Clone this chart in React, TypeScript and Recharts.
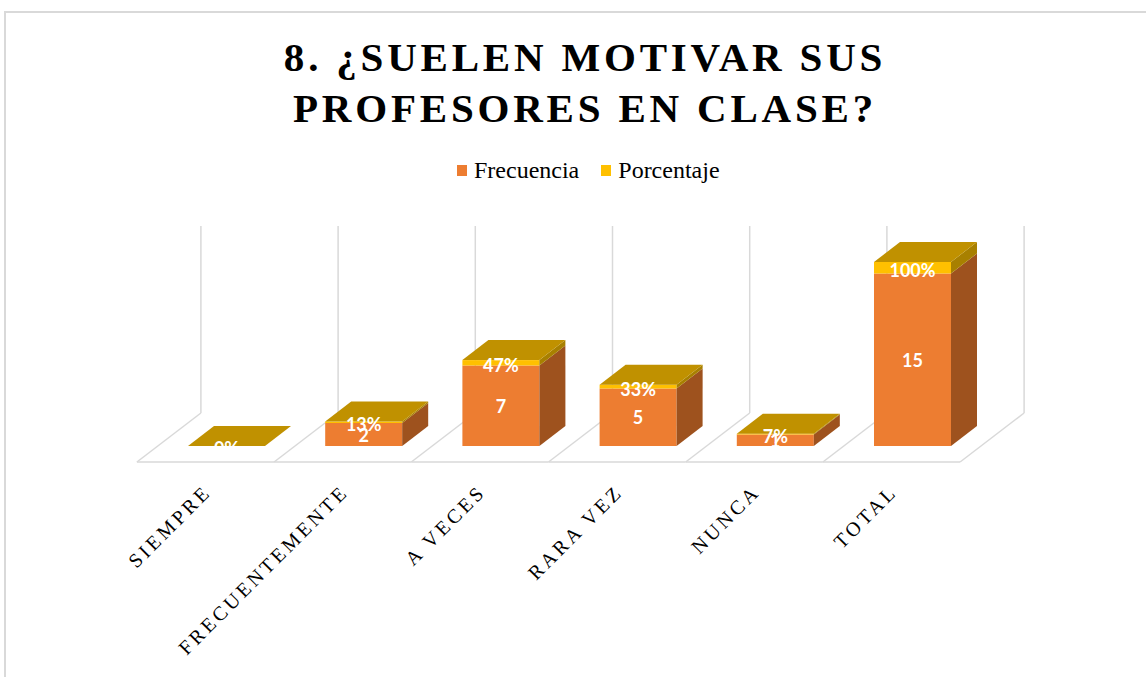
import React from "react";
import { BarChart, Bar, XAxis, YAxis, LabelList } from "recharts";

// values
const categories = ["SIEMPRE", "FRECUENTEMENTE", "A VECES", "RARA VEZ", "NUNCA", "TOTAL"];
const frecuencia = [0, 2, 7, 5, 1, 15];
const porcentaje = [0, 0.13, 0.47, 0.33, 0.07, 1.0];
const seriesNames = ["Frecuencia", "Porcentaje"];

const data = categories.map((name, i) => ({
  name,
  frecuencia: frecuencia[i],
  porcentaje: porcentaje[i],
}));

// layout
const W = 1146;
const H = 677;
const PLOT_LEFT = 158;
const BAND = 137.2;
const PLOT_TOP = 262;
const PLOT_BOTTOM = 446;
const AXIS_H = 60;

// 3d look
const DX = 26;
const DY = 20;
const FLOOR_FRONT = { dx: -21, dy: 16 };
const FLOOR_BACK = { dx: 43, dy: -33 };
const WALL_TOP = PLOT_TOP - 36;

const ORANGE = "#ED7D31";
const ORANGE_SIDE = "#9E521E";
const YELLOW = "#FFC000";
const YELLOW_SIDE = "#A88000";
const TOP_FACE = "#C09100";
const GRID = "#D9D9D9";

const FrecuenciaShape = (props: any) => {
  const { x, y, width, height, index } = props;
  const base = y + height;
  const left = x + width / 2 - BAND / 2;
  const right = left + BAND;
  const isLast = index === categories.length - 1;
  const edges = isLast ? [left, right] : [left];
  return (
    <g>
      <line
        x1={left + FLOOR_FRONT.dx}
        y1={base + FLOOR_FRONT.dy}
        x2={right + FLOOR_FRONT.dx}
        y2={base + FLOOR_FRONT.dy}
        stroke={GRID}
        strokeWidth={1.5}
      />
      {edges.map((ex) => (
        <g key={ex}>
          <line
            x1={ex + FLOOR_FRONT.dx}
            y1={base + FLOOR_FRONT.dy}
            x2={ex + FLOOR_BACK.dx}
            y2={base + FLOOR_BACK.dy}
            stroke={GRID}
            strokeWidth={1.5}
          />
          <line
            x1={ex + FLOOR_BACK.dx}
            y1={base + FLOOR_BACK.dy}
            x2={ex + FLOOR_BACK.dx}
            y2={WALL_TOP}
            stroke={GRID}
            strokeWidth={1.5}
          />
        </g>
      ))}
      {height > 0 && (
        <>
          <rect x={x} y={y} width={width} height={height} fill={ORANGE} />
          <polygon
            points={`${x + width},${y} ${x + width + DX},${y - DY} ${x + width + DX},${base - DY} ${x + width},${base}`}
            fill={ORANGE_SIDE}
          />
        </>
      )}
    </g>
  );
};

const PorcentajeShape = (props: any) => {
  const { x, y, width, height } = props;
  const base = y + height;
  return (
    <g>
      {height > 0 && (
        <>
          <rect x={x} y={y} width={width} height={height} fill={YELLOW} />
          <polygon
            points={`${x + width},${y} ${x + width + DX},${y - DY} ${x + width + DX},${base - DY} ${x + width},${base}`}
            fill={YELLOW_SIDE}
          />
        </>
      )}
      <polygon
        points={`${x},${y} ${x + DX},${y - DY} ${x + width + DX},${y - DY} ${x + width},${y}`}
        fill={TOP_FACE}
      />
    </g>
  );
};

const labelStyle = {
  fill: "#FFFFFF",
  fontFamily: "Lato, 'Open Sans', sans-serif",
  fontWeight: 700,
  fontSize: 18,
};

const FrecLabel = (props: any) => {
  const { x, y, width, height, value } = props;
  if (!value) return null;
  return (
    <text
      x={x + width / 2}
      y={y + height / 2}
      textAnchor="middle"
      dominantBaseline="central"
      style={labelStyle}
    >
      {value}
    </text>
  );
};

const PctLabel = (props: any) => {
  const { x, y, width, height, value, index } = props;
  const id = `pct-clip-${index}`;
  return (
    <g>
      <defs>
        <clipPath id={id}>
          <rect x={0} y={0} width={W} height={PLOT_BOTTOM + 1} />
        </clipPath>
      </defs>
      <text
        x={x + width / 2}
        y={y + height / 2 + 2}
        textAnchor="middle"
        dominantBaseline="central"
        clipPath={`url(#${id})`}
        style={labelStyle}
      >
        {`${Math.round(value * 100)}%`}
      </text>
    </g>
  );
};

const AxisTick = (props: any) => {
  const { x, y, payload } = props;
  const ax = x - 14;
  const ay = y + 47;
  return (
    <text
      x={ax}
      y={ay}
      textAnchor="end"
      transform={`rotate(-45 ${ax} ${ay})`}
      fill="#000"
      style={{ fontFamily: "'Liberation Serif', serif", fontSize: 20, letterSpacing: 3.3 }}
    >
      {payload.value}
    </text>
  );
};

export default function App() {
  const plotRight = PLOT_LEFT + BAND * categories.length;
  return (
    <div style={{ position: "fixed", inset: 0, overflow: "hidden", background: "#fff" }}>
      <div
        style={{
          position: "absolute",
          left: 4,
          top: 11,
          width: 1200,
          height: 720,
          border: "2px solid #D9D9D9",
        }}
      />
      <div
        style={{
          position: "absolute",
          left: 0,
          top: 32,
          width: 1170,
          textAlign: "center",
          fontFamily: "'Liberation Serif', serif",
          fontWeight: 700,
          fontSize: 41,
          lineHeight: "51px",
          letterSpacing: 3.8,
          color: "#000",
        }}
      >
        8. ¿SUELEN MOTIVAR SUS
        <br />
        PROFESORES EN CLASE?
      </div>
      <div
        style={{
          position: "absolute",
          left: 457,
          top: 159,
          display: "flex",
          alignItems: "center",
          fontFamily: "'Liberation Serif', serif",
          fontSize: 24,
          lineHeight: "23px",
          color: "#000",
        }}
      >
        {seriesNames.map((n, i) => (
          <div key={n} style={{ display: "flex", alignItems: "center", marginRight: 22 }}>
            <span
              style={{
                display: "inline-block",
                width: 10,
                height: 11,
                background: i === 0 ? ORANGE : YELLOW,
                marginRight: 7,
              }}
            />
            <span>{n}</span>
          </div>
        ))}
      </div>
      <div style={{ position: "absolute", left: 0, top: 0 }}>
        <BarChart
          width={W}
          height={H}
          data={data}
          margin={{
            top: PLOT_TOP,
            left: PLOT_LEFT,
            right: W - plotRight,
            bottom: H - PLOT_BOTTOM - AXIS_H,
          }}
          barSize={77}
        >
          <XAxis
            dataKey="name"
            axisLine={false}
            tickLine={false}
            tickSize={0}
            tickMargin={0}
            height={AXIS_H}
            interval={0}
            tick={<AxisTick />}
          />
          <YAxis hide domain={[0, 16]} />
          <Bar
            dataKey="frecuencia"
            stackId="a"
            shape={<FrecuenciaShape />}
            isAnimationActive={false}
          >
            <LabelList dataKey="frecuencia" content={<FrecLabel />} />
          </Bar>
          <Bar
            dataKey="porcentaje"
            stackId="a"
            shape={<PorcentajeShape />}
            isAnimationActive={false}
          >
            <LabelList dataKey="porcentaje" content={<PctLabel />} />
          </Bar>
        </BarChart>
      </div>
    </div>
  );
}
